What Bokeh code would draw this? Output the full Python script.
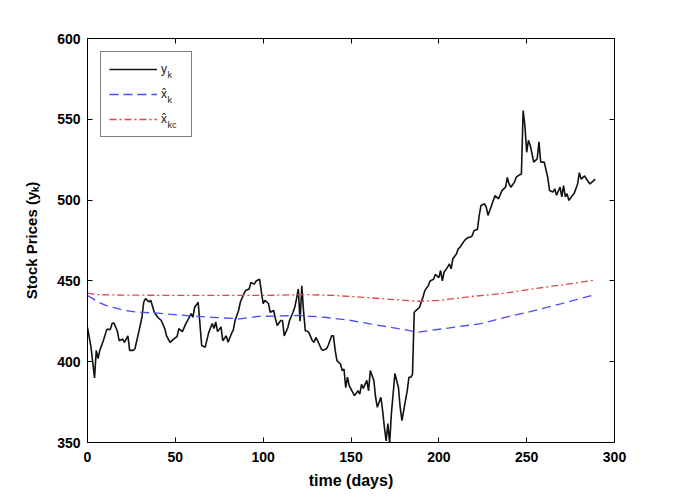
from bokeh.plotting import figure
from bokeh.models import (LinearAxis, Legend, LegendItem, Range1d,
                          FixedTicker)
from bokeh.core.properties import value
from bokeh.embed import file_html
from bokeh.resources import INLINE

# ---- data ----
days = [0, 2, 4, 5, 6, 7, 9, 11, 13, 14, 15, 17, 18, 20, 21, 23, 24, 26, 27, 29,
        31, 32, 33, 35, 36, 38, 40, 42, 44, 45, 47, 49, 51, 52, 54, 56, 57, 59, 60, 61,
        63, 64, 65, 67, 69, 71, 72, 73, 74, 76, 77, 79, 80, 82, 83, 84, 86, 87, 89, 90,
        92, 93, 95, 96, 98, 99, 100, 101, 103, 104, 106, 107, 108, 110, 111, 112, 114, 115, 117, 118,
        119, 120, 121, 122, 123, 124, 125, 126, 128, 129, 130, 131, 133, 134, 136, 137, 139, 140, 141, 142,
        144, 145, 146, 147, 148, 149, 151, 152, 154, 155, 156, 157, 159, 160, 161, 163, 164, 165, 167, 168,
        169, 170, 171, 172, 173, 174, 175, 177, 178, 179, 181, 182, 183, 184, 185, 186, 188, 189, 191, 192,
        194, 195, 197, 198, 200, 201, 202, 203, 205, 206, 207, 208, 210, 211, 212, 214, 215, 217, 218, 219,
        220, 222, 223, 224, 226, 227, 228, 230, 231, 232, 234, 236, 238, 239, 240, 241, 243, 244, 246, 247,
        248, 249, 250, 251, 252, 253, 254, 256, 257, 258, 260, 262, 263, 265, 266, 267, 269, 270, 271, 272,
        273, 274, 276, 277, 279, 280, 281, 283, 284, 286, 287, 289]
price = [421, 409, 390, 407, 402, 407, 413, 420, 420, 423.6, 424, 419, 413, 414, 412, 416, 407, 407, 408, 417.5,
         427.5, 436.8, 439, 437, 438, 430.6, 427.5, 425.5, 420.5, 416, 412, 414, 415.6, 420.5, 418.6, 423.6, 425.5, 429.8, 427.5, 433.7,
         436.8, 423.6, 410, 409, 418, 423.6, 420.5, 424.6, 418.6, 421.5, 413, 416, 412, 417.5, 419.6, 425.5, 431.7, 436.8, 442, 444,
         445, 449, 448, 450, 451, 443, 436, 438, 436, 430.6, 431.7, 426.5, 422.4, 425.5, 425.5, 416, 421, 425.5, 430.6, 433.7,
         439, 445, 425, 447, 431, 419, 419, 418, 413, 412, 415, 413, 408, 407, 408, 410, 416, 416, 407, 400.7,
         398.6, 394.5, 395.5, 384, 390.4, 385, 381, 379, 382, 380, 386, 383.5, 388.4, 382, 394.5, 388.4, 378, 371.8, 378, 369.8,
         359.5, 351, 361.7, 349.4, 368, 380.3, 392.7, 384, 371.8, 363.6, 376, 382, 390.4, 390.4, 392, 430.6, 432.7, 433.7, 440, 444,
         447, 450, 451, 454, 452, 456.4, 450, 455.4, 458.5, 460.5, 457.5, 463.7, 466.7, 469.8, 470.8, 474, 475.5, 477, 477, 478,
         481, 482, 490.5, 496.7, 497.7, 495.7, 490.5, 496.7, 499.8, 502.8, 500.8, 506, 508, 514, 510, 508, 511, 514, 515.7, 516,
         555.4, 546, 529.6, 537, 534, 529, 523.5, 525.5, 536, 523.5, 523.5, 514, 506, 505, 507, 503, 508, 502, 509, 502,
         504, 499.8, 502.8, 504, 510, 517, 513, 515, 513, 510, 511, 513]

est_days = [0, 3, 6, 10, 15, 20, 27, 40, 56, 70, 87, 97, 121, 135, 150, 161, 178, 188, 195, 216,
            224, 240, 252, 270, 289]
est_k = [441, 439, 437, 435, 433.5, 432, 430.8, 430, 428.6, 427.5, 426.5, 428, 428.6, 427.5, 425.5, 423.4, 420.3, 418.3, 419.3, 422.4,
         423.5, 428, 431, 436, 441.5]

estc_days = [0, 5, 20, 60, 100, 125, 140, 155, 170, 188, 200, 220, 235, 250, 270, 289]
est_kc = [442.5, 441.5, 441.2, 441, 441, 441.5, 441, 440, 438.8, 437.4, 437.9, 440.5, 442, 444.5, 447.5, 450.5]

x_ticks = [0, 50, 100, 150, 200, 250, 300]
y_ticks = [350, 400, 450, 500, 550, 600]

legend_subscripts = ["k", "k", "kc"]

FONT = "Liberation Sans"

p = figure(width=680, height=498, x_range=Range1d(0, 300), y_range=Range1d(350, 600),
           output_backend="svg", toolbar_location=None,
           min_border_left=87, min_border_right=66, min_border_top=38, min_border_bottom=56)
p.grid.visible = False
p.outline_line_color = "black"
p.outline_line_width = 1
p.background_fill_color = "white"

r1 = p.line(days, price, line_color="#111111", line_width=1.6)
r2 = p.line(est_days, est_k, line_color="#4d4df0", line_width=1.3, line_dash="9 5")
r3 = p.line(estc_days, est_kc, line_color="#e04848", line_width=1.3, line_dash="7 3 2 3")

p.xaxis.ticker = FixedTicker(ticks=x_ticks)
p.yaxis.ticker = FixedTicker(ticks=y_ticks)
p.xaxis.axis_label = "time (days)"
p.yaxis.axis_label = "Stock Prices (y\u2096)"

for ax in (p.xaxis[0], p.yaxis[0]):
    ax.axis_line_color = "black"
    ax.major_tick_in = 5
    ax.major_tick_out = 0
    ax.minor_tick_line_color = None
    ax.major_tick_line_color = "black"
    ax.major_label_text_font = FONT
    ax.major_label_text_font_style = "bold"
    ax.major_label_text_font_size = "14px"
    ax.major_label_text_color = "black"
    ax.axis_label_text_font = FONT
    ax.axis_label_text_font_style = "bold"
    ax.axis_label_text_color = "black"

p.xaxis.major_label_standoff = 9
p.yaxis.major_label_standoff = 7
p.xaxis.axis_label_text_font_size = "16px"
p.xaxis.axis_label_standoff = 7
p.yaxis.axis_label_text_font_size = "15px"
p.yaxis.axis_label_standoff = 14

# mirrored ticks on top and right (MATLAB style box)
top = LinearAxis(ticker=FixedTicker(ticks=x_ticks),
                 major_label_overrides={t: "" for t in x_ticks})
right = LinearAxis(ticker=FixedTicker(ticks=y_ticks),
                   major_label_overrides={t: "" for t in y_ticks})
for ax in (top, right):
    ax.major_tick_in = 5
    ax.major_tick_out = 0
    ax.minor_tick_line_color = None
    ax.axis_line_color = "black"
    ax.major_label_standoff = 0
p.add_layout(top, "above")
p.add_layout(right, "right")

legend = Legend(items=[LegendItem(label="y", renderers=[r1]),
                       LegendItem(label="x\u0302", renderers=[r2]),
                       LegendItem(label="x\u0302", renderers=[r3])],
                location="top_left", margin=13, padding=8, spacing=7,
                glyph_width=48, glyph_height=18, label_height=18, label_width=22,
                label_standoff=4, border_line_color="black", border_line_width=1,
                label_text_font=FONT, label_text_font_size="12px",
                label_text_color="#222222",
                background_fill_alpha=0)
p.add_layout(legend)

# subscripts of legend entries, placed next to the legend labels
p.text(x=[45.5, 45.5, 45.5], y=[580.5, 565.0, 549.5], text=legend_subscripts,
       text_font=value(FONT), text_font_size="9px", text_baseline="top",
       text_color="#222222")

open("out.html", "w").write(file_html(p, INLINE))
